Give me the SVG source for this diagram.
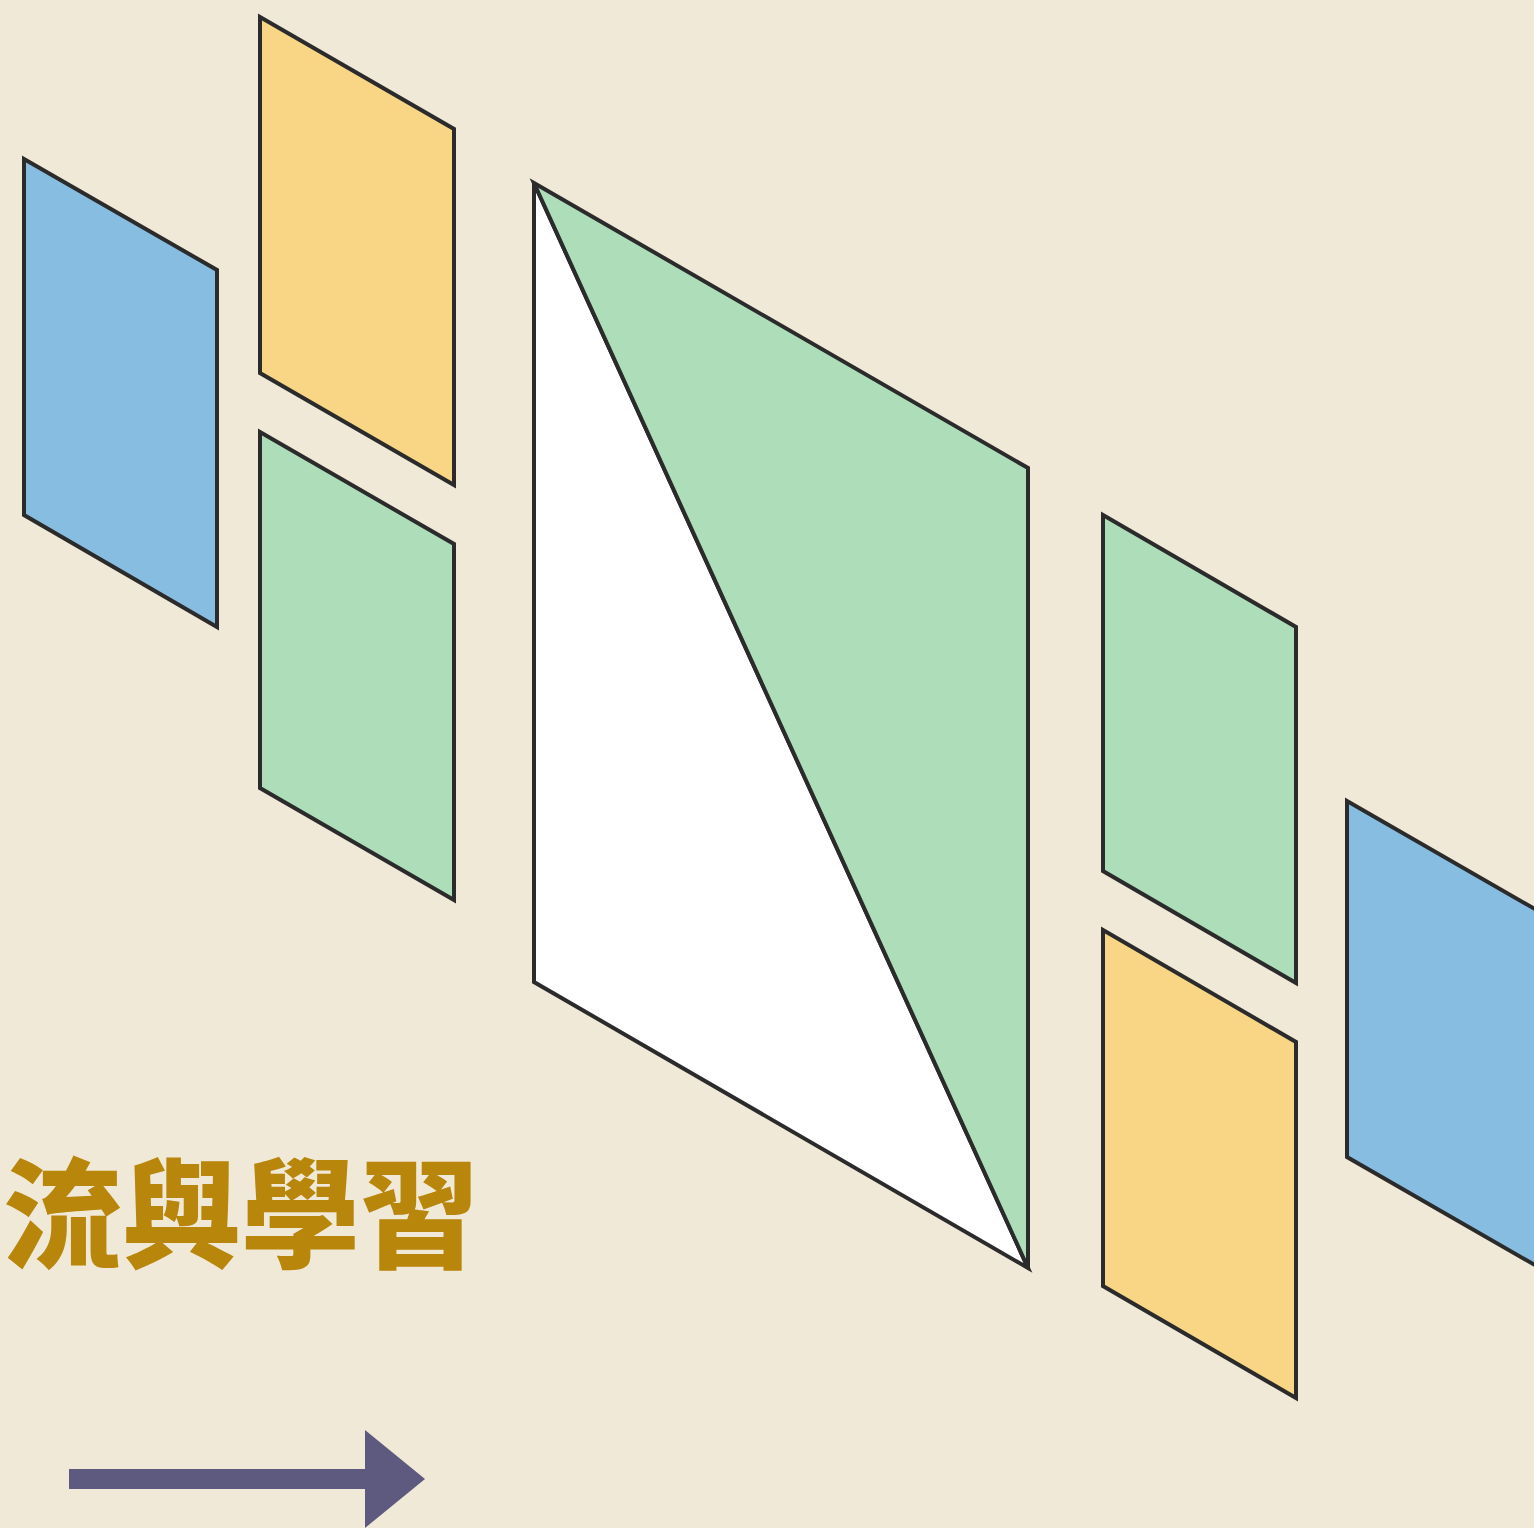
<svg xmlns="http://www.w3.org/2000/svg" width="1534" height="1528" viewBox="0 0 1534 1528">
<style>
.p{stroke:#2b2b2b;stroke-width:4;stroke-linejoin:miter}
.b{fill:#87bde1}.y{fill:#f8d686}.g{fill:#addeb9}.w{fill:#ffffff}
.t{font-family:"Noto Sans CJK TC","Noto Sans CJK SC",sans-serif;font-weight:900;font-size:119px;fill:#b8860b}
</style>
<rect width="1534" height="1528" fill="#f1e9d8"/>
<g id="blue-left"><polygon class="p b" points="24,159 217,270 217,627 24,515"/></g>
<g id="yellow-left"><polygon class="p y" points="260,17 454,129 454,485 260,373"/></g>
<g id="green-left"><polygon class="p g" points="260,432 454,544 454,900 260,788"/></g>
<g id="big-panel">
<polygon class="p w" points="534,183 1028,1268 534,982"/>
<polygon class="p g" points="534,183 1028,468 1028,1268"/>
</g>
<g id="green-right"><polygon class="p g" points="1103,515 1296,627 1296,983 1103,871"/></g>
<g id="yellow-right"><polygon class="p y" points="1103,930 1296,1042 1296,1398 1103,1286"/></g>
<g id="blue-right"><polygon class="p b" points="1347,801 1540,912 1540,1268 1347,1157"/></g>
<g id="title"><text class="t" x="241" y="1259" text-anchor="middle">流與學習</text></g>
<g id="connectors">
<rect x="69" y="1469" width="298" height="20" fill="#5e5a7f"/>
<polygon points="365,1430 425,1479 365,1528" fill="#5e5a7f"/>
</g>
</svg>
